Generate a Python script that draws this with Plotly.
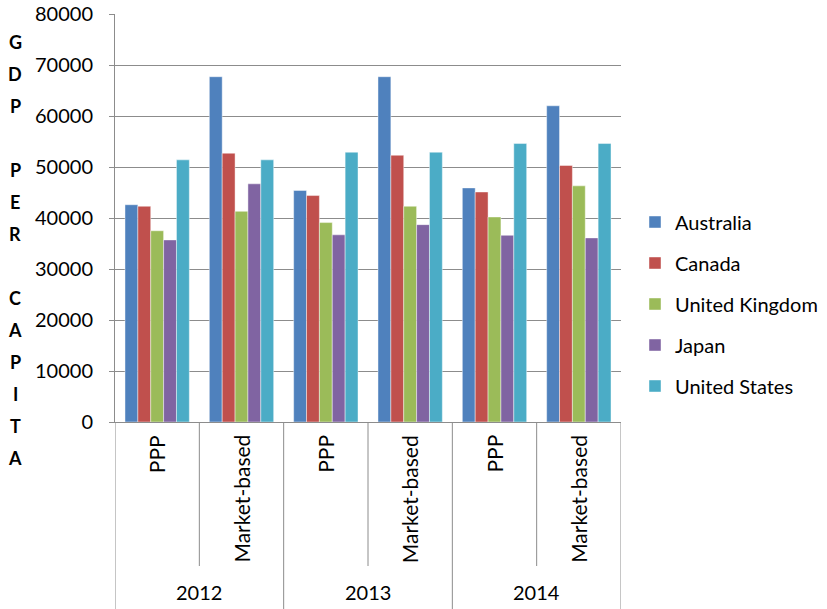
import plotly.graph_objects as go

# GDP per capita by year and measurement basis
years = ["2012", "2013", "2014"]
methods = ["PPP", "Market-based"]
countries = ["Australia", "Canada", "United Kingdom", "Japan", "United States"]

australia = [42600, 67700, 45400, 67700, 45900, 62000]
canada = [42300, 52700, 44400, 52300, 45100, 50300]
united_kingdom = [37500, 41300, 39100, 42300, 40200, 46300]
japan = [35700, 46700, 36700, 38700, 36600, 36100]
united_states = [51400, 51400, 52900, 52900, 54600, 54600]

y_ticks = [0, 10000, 20000, 30000, 40000, 50000, 60000, 70000, 80000]
axis_title = "GDP PER CAPITA"

series = [australia, canada, united_kingdom, japan, united_states]
colors = ["#4F81BD", "#C0504D", "#9BBB59", "#8064A2", "#4BACC6"]

FONT = "Lato"
GRID = "#8C8C8C"

# plot area in pixels
PL, PR, PT, PB = 115, 621, 14, 422
PW, PH = PR - PL, PB - PT

n_cat = len(years) * len(methods)
x_pos = list(range(n_cat))

fig = go.Figure()
for name, vals, col in zip(countries, series, colors):
    fig.add_trace(go.Bar(
        x=x_pos, y=vals, name=name, legendgroup=name,
        marker=dict(color=col, line=dict(color="rgba(255,255,255,0.55)", width=0.8)),
    ))

shapes = []
annotations = []

# category dividers below the axis: short ones between methods, long ones between years
for i in range(n_cat + 1):
    xv = i - 0.5
    long_line = (i % len(methods) == 0)
    shapes.append(dict(
        type="line", xref="x", yref="paper", x0=xv, x1=xv,
        y0=0, y1=-(609 - PB) / PH if long_line else -(566 - PB) / PH,
        line=dict(color=GRID, width=1),
    ))

# inner category labels (rotated)
for i in range(n_cat):
    annotations.append(dict(
        x=i, y=-(433 - PB) / PH, xref="x", yref="paper", text=methods[i % len(methods)],
        textangle=-90, xanchor="center", yanchor="top", showarrow=False,
        font=dict(family=FONT, size=21, color="#000000"),
    ))

# outer year labels
for j, yr in enumerate(years):
    annotations.append(dict(
        x=j * len(methods) + (len(methods) - 1) / 2, y=-(592 - PB) / PH,
        xref="x", yref="paper",
        text=yr, xanchor="center", yanchor="middle", showarrow=False,
        font=dict(family=FONT, size=20, color="#000000"),
    ))

# vertical axis title, one letter per line
step = 32.0
top_px = 42.0
for k, ch in enumerate(axis_title):
    if ch == " ":
        continue
    ypx = top_px + k * step
    annotations.append(dict(
        x=(15 - PL) / PW, y=(PB - ypx) / PH, xref="paper", yref="paper",
        text=f"<b>{ch}</b>",
        xanchor="center", yanchor="middle", showarrow=False,
        font=dict(family=FONT, size=18, color="#000000"),
    ))

fig.update_layout(
    width=827, height=609,
    margin=dict(l=PL, r=827 - PR, t=PT, b=609 - PB, autoexpand=False),
    paper_bgcolor="white", plot_bgcolor="white",
    barmode="group", bargap=0.237, bargroupgap=0,
    font=dict(family=FONT, size=20, color="#000000"),
    showlegend=True,
    legend=dict(
        x=(635 - PL) / PW, y=(PB - 304) / PH, xanchor="left", yanchor="middle",
        font=dict(family=FONT, size=20, color="#000000"),
        tracegroupgap=12, itemclick=False, bgcolor="rgba(0,0,0,0)",
    ),
    xaxis=dict(
        range=[-0.5, n_cat - 0.5], showticklabels=False, showgrid=False,
        zeroline=False, showline=True, linecolor=GRID, linewidth=1, ticks="",
        automargin=False,
    ),
    yaxis=dict(
        range=[0, 80000], tickvals=y_ticks, ticktext=[str(v) for v in y_ticks],
        showgrid=True, gridcolor=GRID, gridwidth=1,
        zeroline=False, showline=True, linecolor=GRID, linewidth=1,
        ticks="outside", ticklen=5, tickcolor=GRID, ticklabelstandoff=12,
        tickfont=dict(family=FONT, size=20, color="#000000"), automargin=False,
    ),
    shapes=shapes, annotations=annotations,
)

fig.write_html("out.html")
